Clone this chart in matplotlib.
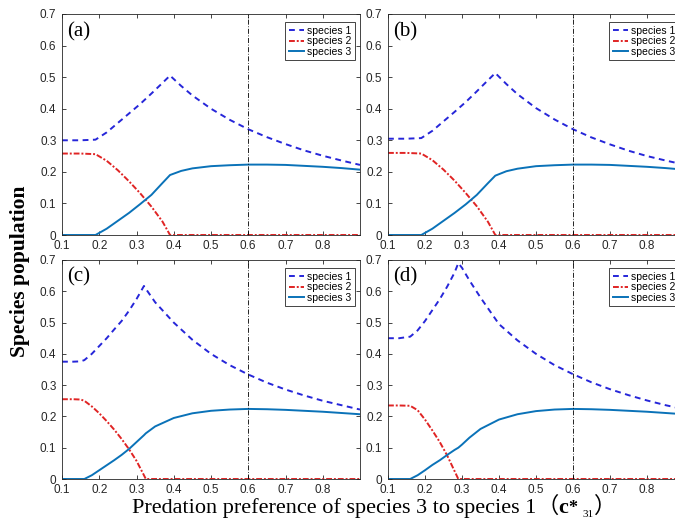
import matplotlib
matplotlib.use("Agg")
import matplotlib.pyplot as plt

# --- DATA ---
xa = [0.10, 0.15, 0.19, 0.22, 0.25, 0.28, 0.31, 0.34, 0.37, 0.39, 0.42,
      0.45, 0.50, 0.55, 0.60, 0.65, 0.70, 0.75, 0.80, 0.85, 0.90]
s1a = [0.300, 0.300, 0.302, 0.325, 0.355, 0.385, 0.415, 0.448, 0.482, 0.505, 0.472,
       0.442, 0.400, 0.365, 0.335, 0.310, 0.288, 0.268, 0.251, 0.236, 0.222]
s2a = [0.258, 0.258, 0.256, 0.235, 0.205, 0.170, 0.132, 0.090, 0.042, 0.000, 0.000,
       0.000, 0.000, 0.000, 0.000, 0.000, 0.000, 0.000, 0.000, 0.000, 0.000]
s3a = [0.000, 0.000, 0.000, 0.020, 0.045, 0.070, 0.098, 0.127, 0.165, 0.190, 0.203,
       0.211, 0.218, 0.221, 0.223, 0.223, 0.222, 0.219, 0.216, 0.212, 0.207]

xb = xa
s1b = [0.305, 0.305, 0.307, 0.330, 0.360, 0.390, 0.421, 0.455, 0.490, 0.513, 0.478,
       0.446, 0.402, 0.366, 0.335, 0.309, 0.287, 0.267, 0.250, 0.236, 0.223]
s2b = [0.260, 0.260, 0.258, 0.237, 0.207, 0.172, 0.133, 0.091, 0.042, 0.000, 0.000,
       0.000, 0.000, 0.000, 0.000, 0.000, 0.000, 0.000, 0.000, 0.000, 0.000]
s3b = [0.000, 0.000, 0.000, 0.020, 0.045, 0.070, 0.097, 0.127, 0.164, 0.188, 0.202,
       0.210, 0.218, 0.221, 0.223, 0.223, 0.222, 0.219, 0.216, 0.212, 0.207]

xc = [0.10, 0.13, 0.15, 0.16, 0.18, 0.20, 0.22, 0.24, 0.26, 0.28, 0.30, 0.32, 0.325,
      0.35, 0.40, 0.45, 0.50, 0.55, 0.60, 0.65, 0.70, 0.75, 0.80, 0.85, 0.90]
s1c = [0.375, 0.375, 0.376, 0.380, 0.400, 0.425, 0.450, 0.478, 0.505, 0.538, 0.575, 0.617, 0.608,
       0.565, 0.500, 0.445, 0.400, 0.364, 0.334, 0.308, 0.286, 0.267, 0.250, 0.236, 0.222]
s2c = [0.255, 0.255, 0.254, 0.250, 0.232, 0.210, 0.185, 0.158, 0.128, 0.095, 0.058, 0.012, 0.000,
       0.000, 0.000, 0.000, 0.000, 0.000, 0.000, 0.000, 0.000, 0.000, 0.000, 0.000, 0.000]
s3c = [0.000, 0.000, 0.000, 0.000, 0.012, 0.028, 0.044, 0.060, 0.077, 0.096, 0.118, 0.140, 0.146,
       0.168, 0.195, 0.210, 0.218, 0.222, 0.224, 0.223, 0.221, 0.218, 0.215, 0.211, 0.207]

xd = [0.10, 0.13, 0.16, 0.18, 0.20, 0.22, 0.24, 0.26, 0.28, 0.29, 0.30, 0.32,
      0.35, 0.40, 0.45, 0.50, 0.55, 0.60, 0.65, 0.70, 0.75, 0.80, 0.85, 0.90]
s1d = [0.450, 0.450, 0.455, 0.475, 0.505, 0.540, 0.575, 0.615, 0.660, 0.690, 0.675, 0.635,
       0.580, 0.495, 0.443, 0.400, 0.364, 0.335, 0.309, 0.287, 0.268, 0.251, 0.236, 0.223]
s2d = [0.235, 0.235, 0.234, 0.220, 0.190, 0.155, 0.118, 0.075, 0.025, 0.000, 0.000, 0.000,
       0.000, 0.000, 0.000, 0.000, 0.000, 0.000, 0.000, 0.000, 0.000, 0.000, 0.000, 0.000]
s3d = [0.000, 0.000, 0.000, 0.012, 0.028, 0.045, 0.060, 0.077, 0.093, 0.100, 0.110, 0.132,
       0.160, 0.190, 0.207, 0.217, 0.222, 0.224, 0.223, 0.221, 0.218, 0.215, 0.211, 0.207]

panel_labels = ["(a)", "(b)", "(c)", "(d)"]
series_names = ["species 1", "species 2", "species 3"]
x_ticks = [0.1, 0.2, 0.3, 0.4, 0.5, 0.6, 0.7, 0.8]
y_ticks = [0, 0.1, 0.2, 0.3, 0.4, 0.5, 0.6, 0.7]
y_tick_labels = ["0", "0.1", "0.2", "0.3", "0.4", "0.5", "0.6", "0.7"]
c_star = 0.6

panels = [(xa, s1a, s2a, s3a), (xb, s1b, s2b, s3b),
          (xc, s1c, s2c, s3c), (xd, s1d, s2d, s3d)]

# --- FIGURE ---
W, H = 675, 520
fig = plt.figure(figsize=(W / 100, H / 100), dpi=100)

# axes boxes in pixels: left, top, right, bottom
boxes = [(62, 14, 360, 235), (388, 14, 684, 235),
         (62, 260, 360, 479), (388, 260, 684, 479)]

GRAY = "#262626"
for (x, y1, y2, y3), lab, (l, t, r, b) in zip(panels, panel_labels, boxes):
    ax = fig.add_axes([l / W, 1 - b / H, (r - l) / W, (b - t) / H])
    ax.plot(x, y1, color="#2626d9", lw=1.4, dashes=(3, 2.3), label=series_names[0])
    ax.plot(x, y2, color="#e02424", lw=1.4, dashes=(3, 1, 1, 1), label=series_names[1])
    ax.plot(x, y3, color="#0a72b8", lw=1.4, label=series_names[2])
    ax.axvline(c_star, color="black", lw=0.6, dashes=(6, 2, 1, 2))
    ax.set_xlim(0.1, 0.9)
    ax.set_ylim(0, 0.7)
    ax.set_xticks(x_ticks)
    ax.set_xticklabels([f"{v:g}" for v in x_ticks])
    ax.set_yticks(y_ticks)
    ax.set_yticklabels(y_tick_labels)
    ax.tick_params(direction="in", top=True, right=True, length=3, width=0.6,
                   labelsize=8.5, colors=GRAY, labelcolor=GRAY)
    ax.tick_params(axis="x", pad=3.5)
    ax.tick_params(axis="y", pad=4)
    for lbl in ax.get_xticklabels() + ax.get_yticklabels():
        lbl.set_family("Liberation Sans")
    for sp in ax.spines.values():
        sp.set_linewidth(0.6)
        sp.set_color(GRAY)
    ax.text(0.018, 0.965, lab, transform=ax.transAxes, va="top", ha="left",
            family="Liberation Serif", fontsize=15)
    w_px, h_px = r - l, b - t
    leg = ax.legend(loc="upper right",
                    bbox_to_anchor=(1 - 5 / w_px, 1 - 8 / h_px),
                    borderaxespad=0, handlelength=1.45, handletextpad=0.3,
                    labelspacing=0.05, borderpad=0.35,
                    fancybox=False, framealpha=1,
                    prop={"family": "Liberation Sans", "size": 7.5})
    leg.get_frame().set_edgecolor(GRAY)
    leg.get_frame().set_linewidth(0.6)

# y label
fig.text(20 / W, 1 - 271 / H, "Species population", rotation=90, ha="center", va="center",
         family="Liberation Serif", fontweight="bold", fontsize=15.5)

# x label, built from pieces so the full-width brackets can use a CJK font
renderer = fig.canvas.get_renderer()
pieces = [
    ("Predation preference of species 3 to species 1", ["Liberation Serif"], 16, 0, 0),
    ("（", ["Noto Sans CJK SC"], 16, 0, 0),
    ("c", ["Liberation Serif"], 16, 0, 0),
    ("*", ["Liberation Serif"], 13, 0, 5),
    ("31", ["Liberation Serif"], 8, -4, 0),
    ("）", ["Noto Sans CJK SC"], 16, 0, 0),
]
x_px = 132
base_px = H - 513
for s, fam, size, dy, gap in pieces:
    t = fig.text(x_px / W, (base_px + dy) / H, s, family=fam, fontsize=size,
                 ha="left", va="baseline", color="black",
                 fontweight="bold" if s in ("c", "*") else "normal")
    bb = t.get_window_extent(renderer)
    x_px = bb.x1 + gap

fig.savefig("out.png", dpi=100)
